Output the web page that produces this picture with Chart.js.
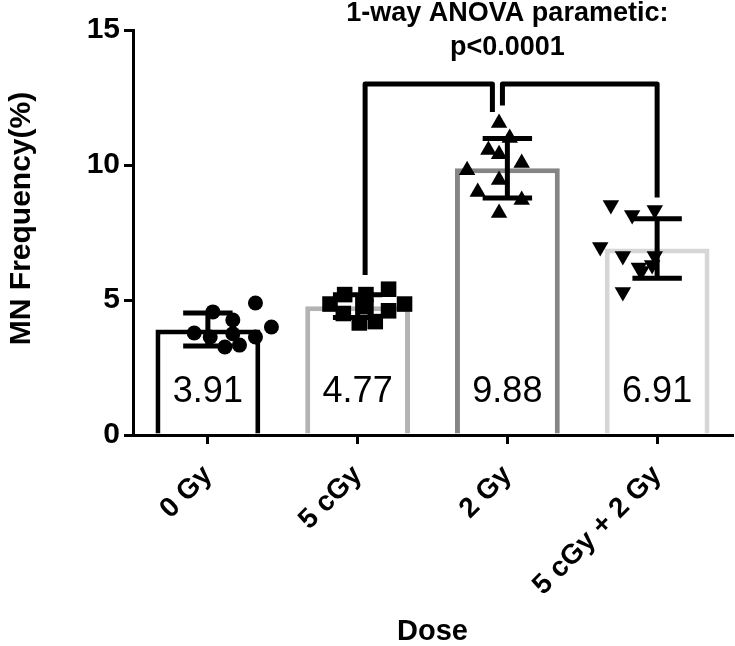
<!DOCTYPE html>
<html><head><meta charset="utf-8">
<script src="https://cdn.jsdelivr.net/npm/chart.js@4/dist/chart.umd.min.js"></script>
<style>html,body{margin:0;padding:0;background:#fff}#wrap{width:735px;height:646px;position:relative}</style>
</head><body><div id="wrap"><canvas id="c" width="735" height="646"></canvas></div>
<script>
// ---- data ----
const categories = ['0 Gy', '5 cGy', '2 Gy', '5 cGy + 2 Gy'];
const means = [3.91, 4.77, 9.88, 6.91];
const sds = [0.61, 0.42, 1.1, 1.1];
const valueLabels = ['3.91', '4.77', '9.88', '6.91'];
const yTicks = [0, 5, 10, 15];

const pts0Gy = [4.56, 4.89, 3.78, 4.0, 3.63, 3.26, 3.33, 3.63, 4.26, 3.75];
const jit0Gy = [-0.15, 0.17, -0.29, 0.29, -0.17, -0.06, 0.05, 0.17, 0, 0];
const pts5cGy = [4.85, 5.2, 5.2, 5.4, 4.85, 4.5, 4.15, 4.2, 4.6, 4.75];
const jit5cGy = [-0.27, -0.16, 0, 0.17, 0.29, -0.17, -0.05, 0.07, 0.17, 0];
const pts2Gy = [11.56, 11.0, 10.56, 10.07, 9.81, 9.44, 9.0, 8.7, 8.22, 10.4];
const jit2Gy = [0, 0.08, -0.08, 0.17, -0.24, 0, -0.16, 0.17, 0, 0];
const pts5c2Gy = [8.52, 8.33, 8.15, 6.96, 6.63, 6.63, 6.3, 6.07, 5.3, 6.2];
const jit5c2Gy = [-0.16, 0.17, 0, -0.24, -0.07, 0.17, 0.15, 0.07, -0.07, 0.05];

const titleLines = ['1-way ANOVA parametic:', 'p<0.0001'];
const yTitle = 'MN Frequency(%)';
// bracket: [x (category units), y (data units)] polylines
const bracketLeft = [[1.05, 5.93], [1.05, 13.0], [1.9, 13.0], [1.9, 11.96]];
const bracketRight = [[1.967, 12.2], [1.967, 13.0], [3.0, 13.0], [3.0, 8.8]];

const FONT = '"Liberation Sans", Arial, sans-serif';
const barColors = ['#000000', '#b3b3b3', '#858585', '#d6d6d6'];

function toXY(vals, jit, i) { return vals.map((v, k) => ({ x: i + jit[k], y: v })); }

const overlay = {
  id: 'overlay',
  afterDatasetDraw(chart, args) {
    if (args.index !== 0) return;
    const ctx = chart.ctx, xs = chart.scales.x, ys = chart.scales.y;
    ctx.save();
    ctx.fillStyle = '#000';
    ctx.font = '36px ' + FONT;
    ctx.textAlign = 'center';
    ctx.textBaseline = 'middle';
    valueLabels.forEach((t, i) => ctx.fillText(t, xs.getPixelForValue(i), ys.getPixelForValue(1.58)));
    ctx.strokeStyle = '#000';
    ctx.lineWidth = 5;
    ctx.lineCap = 'butt';
    means.forEach((m, i) => {
      const cx = xs.getPixelForValue(i);
      const l = xs.getPixelForValue(i - 0.165), r = xs.getPixelForValue(i + 0.165);
      const t = ys.getPixelForValue(m + sds[i]), b = ys.getPixelForValue(m - sds[i]);
      ctx.beginPath();
      ctx.moveTo(cx, t); ctx.lineTo(cx, b);
      ctx.moveTo(l, t); ctx.lineTo(r, t);
      ctx.moveTo(l, b); ctx.lineTo(r, b);
      ctx.stroke();
    });
    ctx.restore();
  },
  afterDraw(chart) {
    const ctx = chart.ctx, xs = chart.scales.x, ys = chart.scales.y;
    ctx.save();
    ctx.strokeStyle = '#000';
    ctx.lineWidth = 5;
    ctx.lineJoin = 'round';
    [bracketLeft, bracketRight].forEach(path => {
      ctx.beginPath();
      path.forEach(([px, py], k) => {
        const X = xs.getPixelForValue(px), Y = ys.getPixelForValue(py);
        if (k === 0) ctx.moveTo(X, Y); else ctx.lineTo(X, Y);
      });
      ctx.stroke();
    });
    ctx.fillStyle = '#000';
    ctx.font = 'bold 27px ' + FONT;
    ctx.textAlign = 'center';
    ctx.textBaseline = 'middle';
    const cx = xs.getPixelForValue(2);
    const top = ys.getPixelForValue(15);
    ctx.fillText(titleLines[0], cx, top - 16);
    ctx.fillText(titleLines[1], cx, top + 18);
    // y axis title
    ctx.font = 'bold 30px ' + FONT;
    ctx.translate(22, (chart.chartArea.top + chart.chartArea.bottom) / 2 - 14);
    ctx.rotate(-Math.PI / 2);
    ctx.fillText(yTitle, 0, 0);
    ctx.restore();
  }
};

const scatterBase = { type: 'scatter', xAxisID: 'x2', yAxisID: 'y', backgroundColor: '#000', borderColor: '#000', borderWidth: 0, order: 1 };

new Chart(document.getElementById('c'), {
  type: 'bar',
  data: {
    labels: categories,
    datasets: [
      { type: 'bar', data: means, xAxisID: 'x', yAxisID: 'y', grouped: false, backgroundColor: '#ffffff', borderColor: barColors, borderWidth: 5, barPercentage: 0.7, categoryPercentage: 1, order: 2 },
      Object.assign({}, scatterBase, { data: toXY(pts0Gy, jit0Gy, 0), pointStyle: 'circle', pointRadius: 7.5 }),
      Object.assign({}, scatterBase, { data: toXY(pts5cGy, jit5cGy, 1), pointStyle: 'rect', pointRadius: 11 }),
      Object.assign({}, scatterBase, { data: toXY(pts2Gy, jit2Gy, 2), pointStyle: 'triangle', pointRadius: 9.5 }),
      Object.assign({}, scatterBase, { data: toXY(pts5c2Gy, jit5c2Gy, 3), pointStyle: 'triangle', pointRotation: 180, pointRadius: 9.5 })
    ]
  },
  options: {
    responsive: false,
    animation: false,
    layout: { autoPadding: false, padding: { top: 30, right: 3, left: 0, bottom: 0 } },
    plugins: { legend: { display: false }, tooltip: { enabled: false }, title: { display: false } },
    scales: {
      x: {
        type: 'category', offset: true, position: 'bottom',
        ticks: { color: '#000', font: { size: 28, weight: 'bold', family: FONT }, maxRotation: 45, minRotation: 45, padding: 15 },
        grid: { offset: false, drawOnChartArea: false, drawTicks: true, tickLength: 9, color: '#000', lineWidth: 3 },
        border: { display: true, color: '#000', width: 3 },
        title: { display: true, text: 'Dose', color: '#000', font: { size: 29, weight: 'bold', family: FONT, lineHeight: 1 }, padding: { top: 0, bottom: 0 } },
        afterFit(s) { s.height = 211; s.paddingLeft = 0; s.paddingRight = 0; }
      },
      x2: { type: 'linear', min: -0.5, max: 3.5, display: false },
      y: {
        min: 0, max: 15,
        afterBuildTicks(s) { s.ticks = yTicks.map(v => ({ value: v })); },
        ticks: { color: '#000', font: { size: 30, weight: 'bold', family: FONT }, padding: 4 },
        grid: { drawOnChartArea: false, drawTicks: true, tickLength: 9, color: '#000', lineWidth: 3 },
        border: { display: true, color: '#000', width: 3 },
        title: { display: false },
        afterFit(s) { s.width = 133; s.paddingTop = 0; s.paddingBottom = 0; }
      }
    }
  },
  plugins: [overlay]
});
</script></body></html>
